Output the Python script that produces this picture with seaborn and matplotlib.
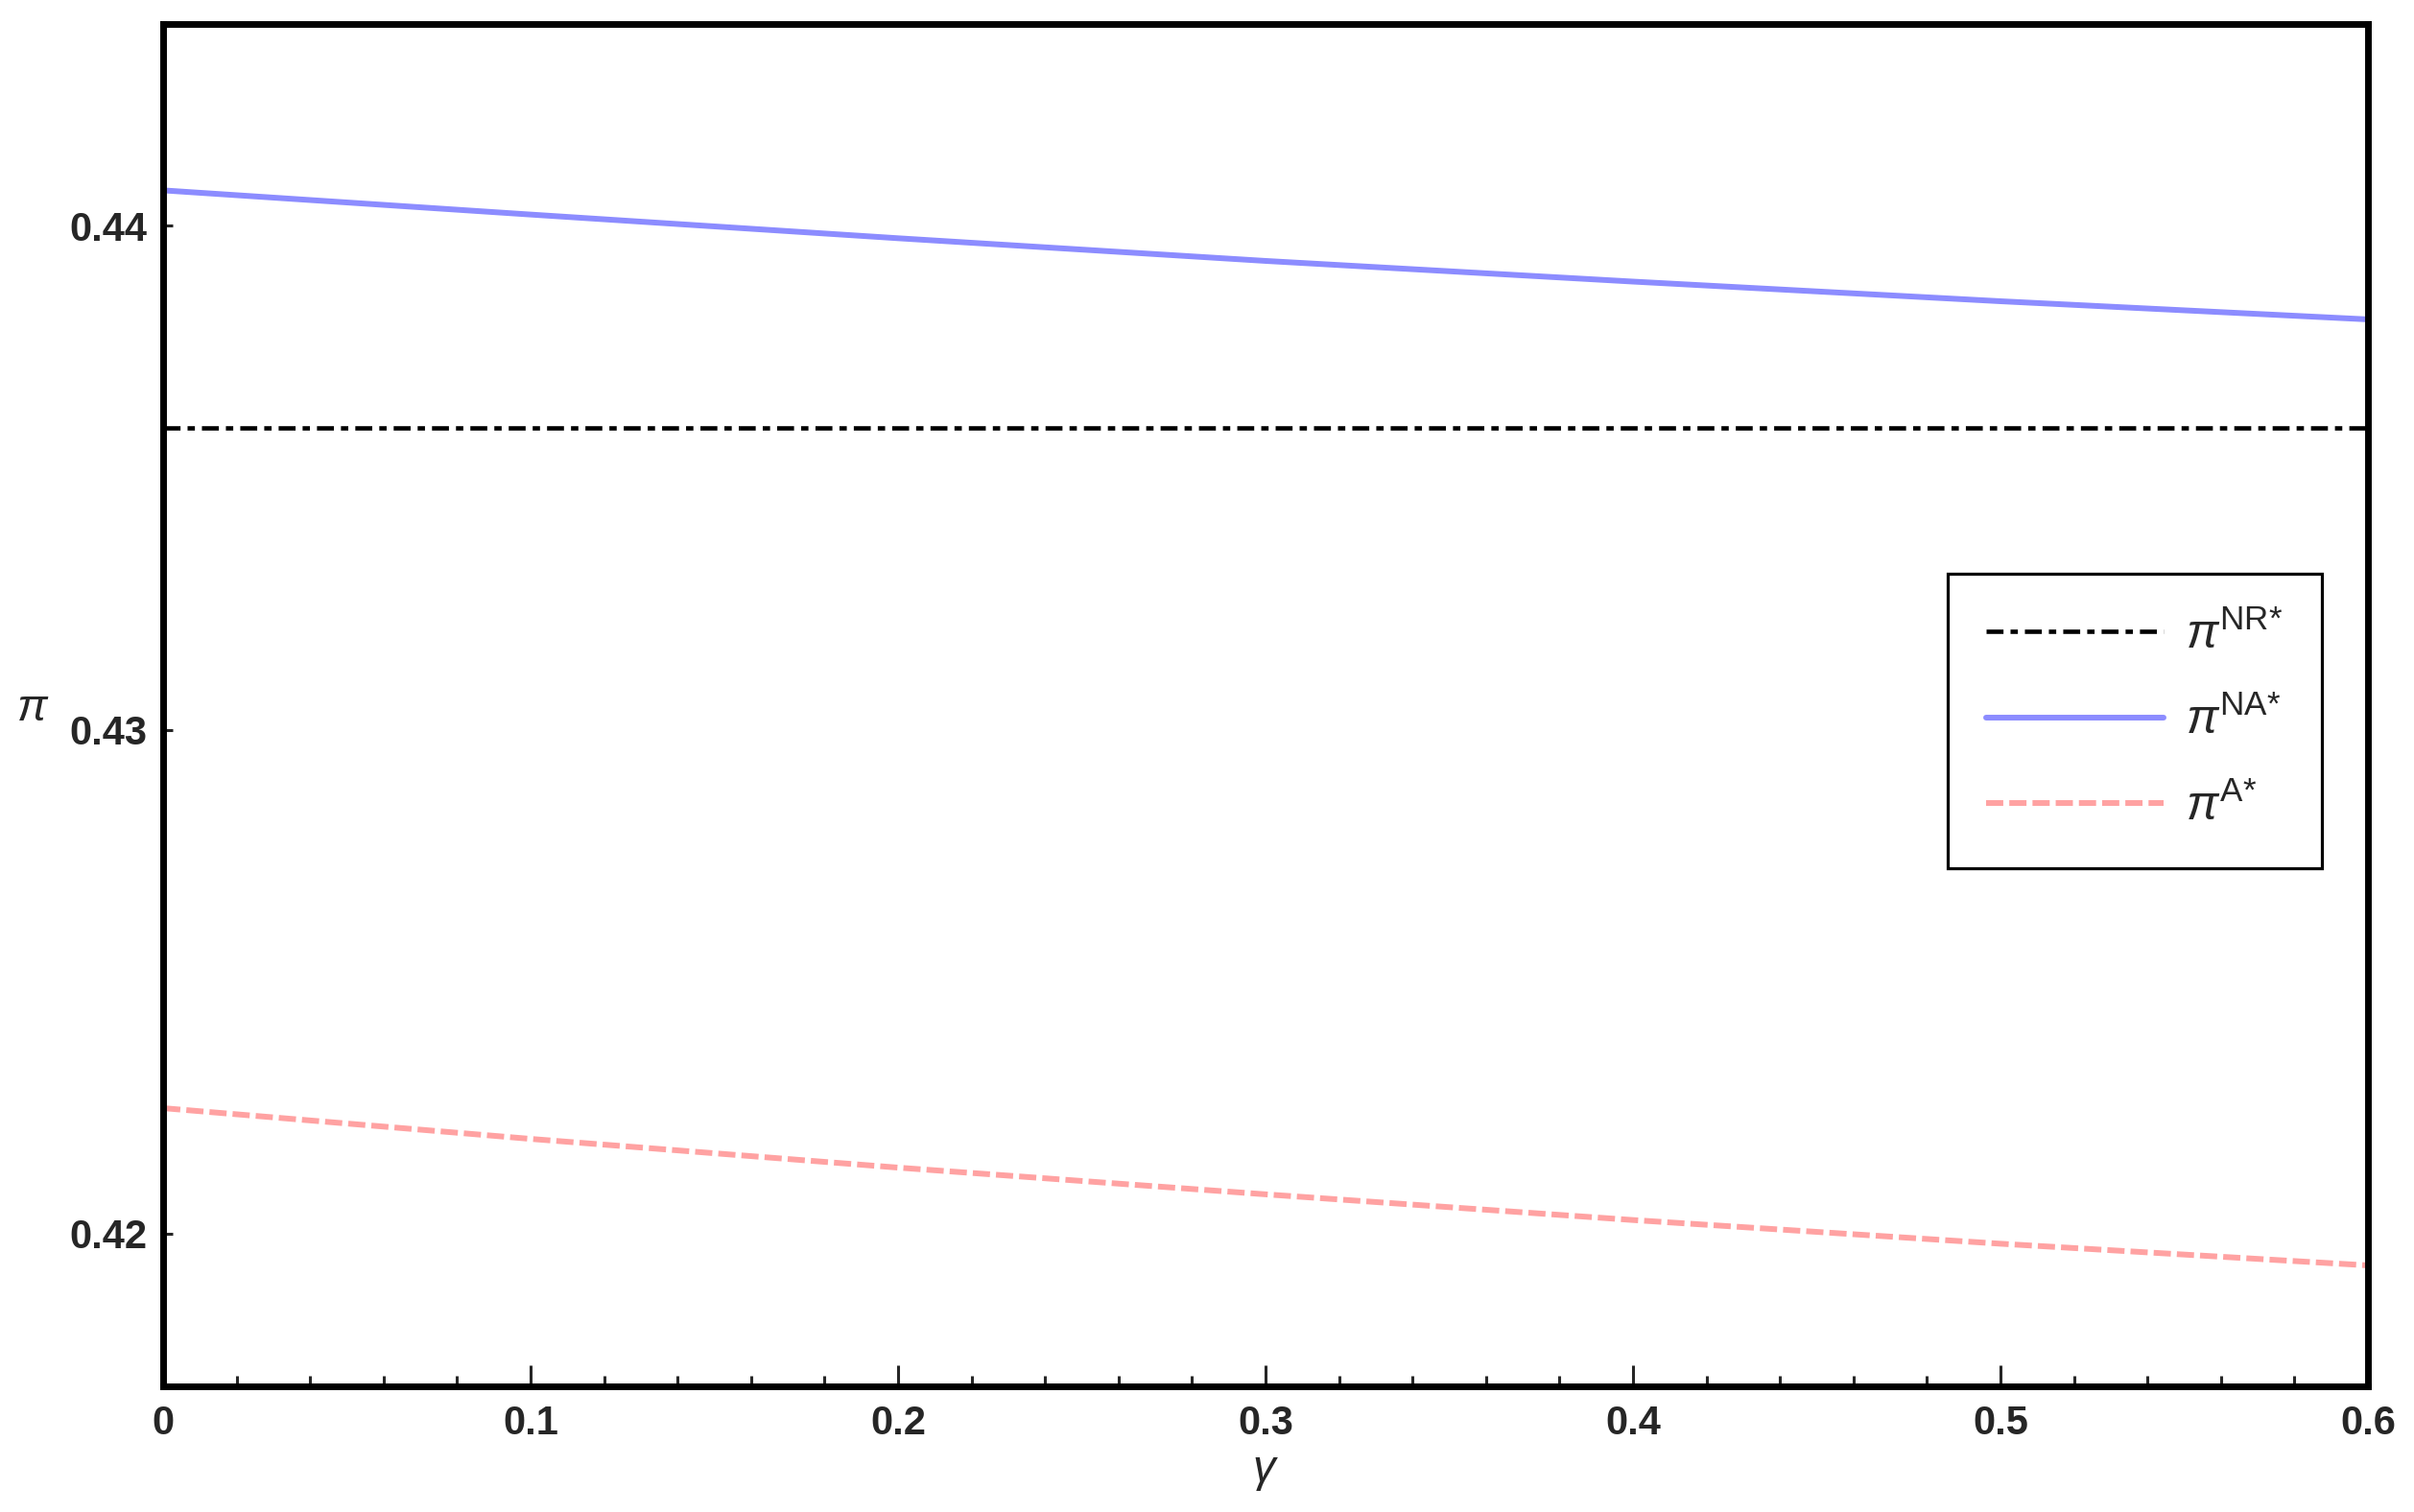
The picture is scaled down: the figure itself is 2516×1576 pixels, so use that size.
import numpy as np
import pandas as pd
import seaborn as sns
import matplotlib.pyplot as plt
from matplotlib.ticker import MultipleLocator

# values
gamma = [0.0, 0.1, 0.2, 0.3, 0.4, 0.5, 0.6]
pi_nr = [0.43599, 0.43599, 0.43599, 0.43599, 0.43599, 0.43599, 0.43599]
pi_na = [0.44070, 0.44022, 0.43975, 0.43930, 0.43889, 0.43850, 0.43814]
pi_a = [0.42249, 0.42188, 0.42131, 0.42078, 0.42027, 0.41980, 0.41937]

labels = [r'$\pi^{\mathrm{NR{*}}}$', r'$\pi^{\mathrm{NA{*}}}$', r'$\pi^{\mathrm{A{*}}}$']
x_ticks = [0, 0.1, 0.2, 0.3, 0.4, 0.5, 0.6]
x_tick_labels = ['0', '0.1', '0.2', '0.3', '0.4', '0.5', '0.6']
y_ticks = [0.42, 0.43, 0.44]
y_tick_labels = ['0.42', '0.43', '0.44']

sns.set_style('ticks')
plt.rcParams['font.family'] = ['Liberation Sans', 'DejaVu Sans']
plt.rcParams['mathtext.fontset'] = 'custom'
plt.rcParams['mathtext.rm'] = 'Liberation Sans'
plt.rcParams['mathtext.it'] = 'Liberation Sans:italic'
plt.rcParams['mathtext.bf'] = 'Liberation Sans:bold'

df = pd.DataFrame({'gamma': gamma, 'nr': pi_nr, 'na': pi_na, 'a': pi_a})

fig = plt.figure(figsize=(25.16, 15.76), dpi=100)
ax = fig.add_axes([0.0676, 0.0831, 0.9133, 0.901])

sns.lineplot(data=df, x='gamma', y='nr', ax=ax, color='black', lw=3.3,
             label=labels[0])
sns.lineplot(data=df, x='gamma', y='na', ax=ax, color='#8c8cff', lw=4.3,
             label=labels[1])
sns.lineplot(data=df, x='gamma', y='a', ax=ax, color='#ffa2a2', lw=4.3,
             label=labels[2])

lines = ax.get_lines()
lines[0].set_dashes([3.85, 1.6, 1.67, 1.6])
lines[2].set_dashes([3.0, 1.05])
for ln in lines:
    ln.set_dash_capstyle('butt')

ax.set_xlim(0, 0.6)
ax.set_ylim(0.41697, 0.444)
ax.set_xticks(x_ticks)
ax.set_xticklabels(x_tick_labels)
ax.set_yticks(y_ticks)
ax.set_yticklabels(y_tick_labels)
ax.xaxis.set_minor_locator(MultipleLocator(0.02))

for s in ax.spines.values():
    s.set_visible(True)
    s.set_linewidth(5)
    s.set_color('black')

ax.tick_params(axis='x', which='major', direction='in', length=16, width=2.2,
               labelsize=30, pad=14)
ax.tick_params(axis='x', which='minor', direction='in', length=8, width=2.2)
ax.tick_params(axis='y', which='major', direction='in', length=7, width=2.2,
               labelsize=30, pad=12)
for t in ax.get_xticklabels() + ax.get_yticklabels():
    t.set_fontweight('bold')

ax.set_xlabel(r'$\gamma$', fontsize=34)
ax.set_ylabel(r'$\pi$', fontsize=34, rotation=0, ha='center', va='center')
ax.xaxis.set_label_coords(0.5, -0.047)
ax.yaxis.set_label_coords(-0.059, 0.497)

leg = ax.legend(loc='upper right', bbox_to_anchor=(0.979, 0.5965),
                borderaxespad=0, fontsize=36, handlelength=3.7,
                handletextpad=0.45, labelspacing=0.84, borderpad=0.81,
                fancybox=False, framealpha=1, edgecolor='black')
leg.get_frame().set_linewidth(2.3)

fig.savefig('out.png', dpi=100)
